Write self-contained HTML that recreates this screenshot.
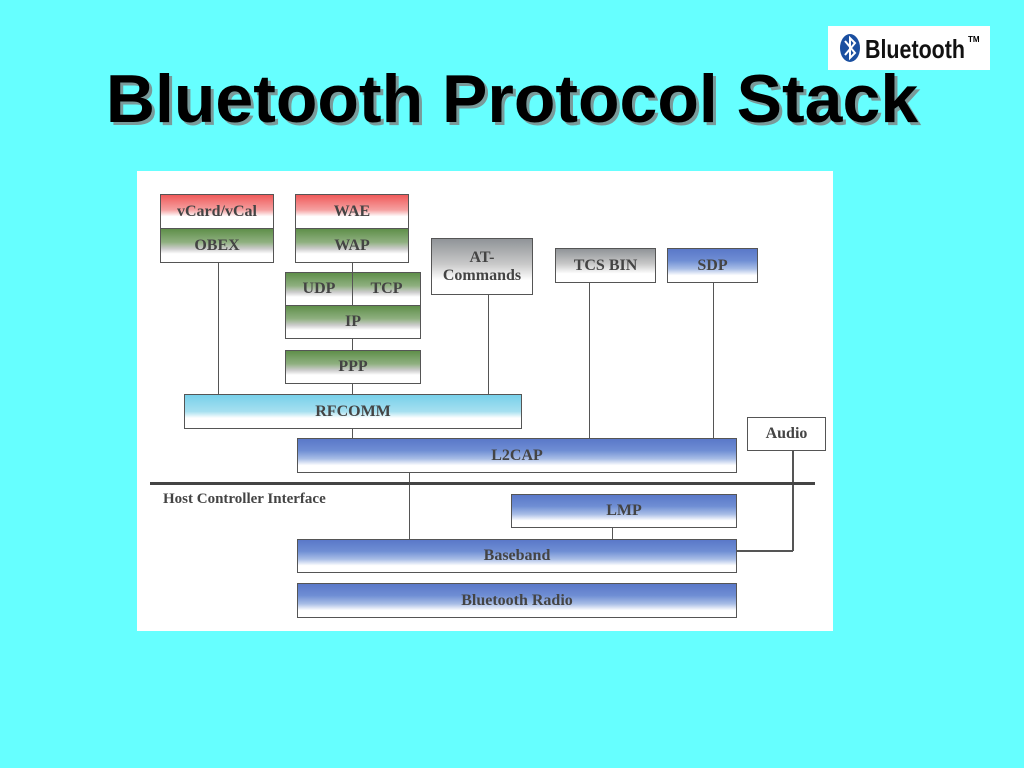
<!DOCTYPE html>
<html><head><meta charset="utf-8"><style>
body{margin:0;width:1024px;height:768px;background:#66ffff;position:relative;overflow:hidden;font-family:"Liberation Serif",serif}
.t{position:absolute;left:0;width:1024px;top:60px;text-align:center;font-family:"Liberation Sans",sans-serif;font-weight:bold;font-size:68px;color:#000;text-shadow:3px 3px 0 #7a9a9a}
.logo{position:absolute;left:828px;top:26px;width:162px;height:44px;background:#fff}
.panel{position:absolute;left:137px;top:171px;width:696px;height:460px;background:#fff}
.b{position:absolute;box-sizing:border-box;border:1.5px solid #555;display:flex;align-items:center;justify-content:center;font-weight:bold;font-size:16px;color:#444;line-height:1.1;text-align:center}
.r{background:linear-gradient(#f05a5a,#f5a0a0 45%,#fff 65%)}
.g{background:linear-gradient(#5f8f4a,#8fb080 40%,#ccc 60%,#fff 75%)}
.gr{background:linear-gradient(#909498,#c8c8c8 45%,#fff 75%)}
.bl{background:linear-gradient(#5a78c8,#6f8ed4 35%,#a8bde6 60%,#fff 80%)}
.lb{background:linear-gradient(#78d0ea,#a6e0f0 50%,#fff 70%)}
.l{position:absolute;background:#555}
</style></head><body>
<div class="t">Bluetooth Protocol Stack</div>
<div class="logo"><svg width="162" height="44"><ellipse cx="22" cy="22" rx="10" ry="14" fill="#1a4fa0"/><path d="M17 15 L27 27 L22 32 L22 12 L27 17 L17 29" stroke="#fff" stroke-width="2" fill="none"/><text x="37" y="32" font-family="Liberation Sans Narrow,Liberation Sans,sans-serif" font-weight="bold" font-size="26" fill="#111" textLength="100" lengthAdjust="spacingAndGlyphs">Bluetooth</text><text x="140" y="16" font-family="Liberation Sans,sans-serif" font-weight="bold" font-size="8">TM</text></svg></div>
<div class="panel"></div>
<div class="l" style="left:218px;top:262px;width:1px;height:132px"></div>
<div class="l" style="left:352px;top:262px;width:1px;height:176px"></div>
<div class="l" style="left:488px;top:294px;width:1px;height:100px"></div>
<div class="l" style="left:589px;top:282px;width:1px;height:156px"></div>
<div class="l" style="left:713px;top:282px;width:1px;height:156px"></div>
<div class="l" style="left:409px;top:472px;width:1px;height:67px"></div>
<div class="l" style="left:612px;top:527px;width:1px;height:12px"></div>
<div class="l" style="left:792px;top:450px;width:1.5px;height:101px"></div>
<div class="l" style="left:736px;top:550px;width:57px;height:1.5px"></div>
<div class="l" style="left:150px;top:482px;width:665px;height:3px;background:#444"></div>
<div style="position:absolute;left:163px;top:491px;font-weight:bold;font-size:15px;color:#444">Host Controller Interface</div>
<div class="b r" style="left:160px;top:194px;width:114px;height:35px">vCard/vCal</div>
<div class="b g" style="left:160px;top:228px;width:114px;height:35px">OBEX</div>
<div class="b r" style="left:295px;top:194px;width:114px;height:35px">WAE</div>
<div class="b g" style="left:295px;top:228px;width:114px;height:35px">WAP</div>
<div class="b g" style="left:285px;top:272px;width:68px;height:34px">UDP</div>
<div class="b g" style="left:352px;top:272px;width:69px;height:34px">TCP</div>
<div class="b g" style="left:285px;top:305px;width:136px;height:34px">IP</div>
<div class="b g" style="left:285px;top:350px;width:136px;height:34px">PPP</div>
<div class="b gr" style="left:431px;top:238px;width:102px;height:57px">AT-<br>Commands</div>
<div class="b gr" style="left:555px;top:248px;width:101px;height:35px">TCS BIN</div>
<div class="b bl" style="left:667px;top:248px;width:91px;height:35px">SDP</div>
<div class="b lb" style="left:184px;top:394px;width:338px;height:35px">RFCOMM</div>
<div class="b" style="left:747px;top:417px;width:79px;height:34px;background:#fff">Audio</div>
<div class="b bl" style="left:297px;top:438px;width:440px;height:35px">L2CAP</div>
<div class="b bl" style="left:511px;top:494px;width:226px;height:34px">LMP</div>
<div class="b bl" style="left:297px;top:539px;width:440px;height:34px">Baseband</div>
<div class="b bl" style="left:297px;top:583px;width:440px;height:35px">Bluetooth Radio</div>
</body></html>
